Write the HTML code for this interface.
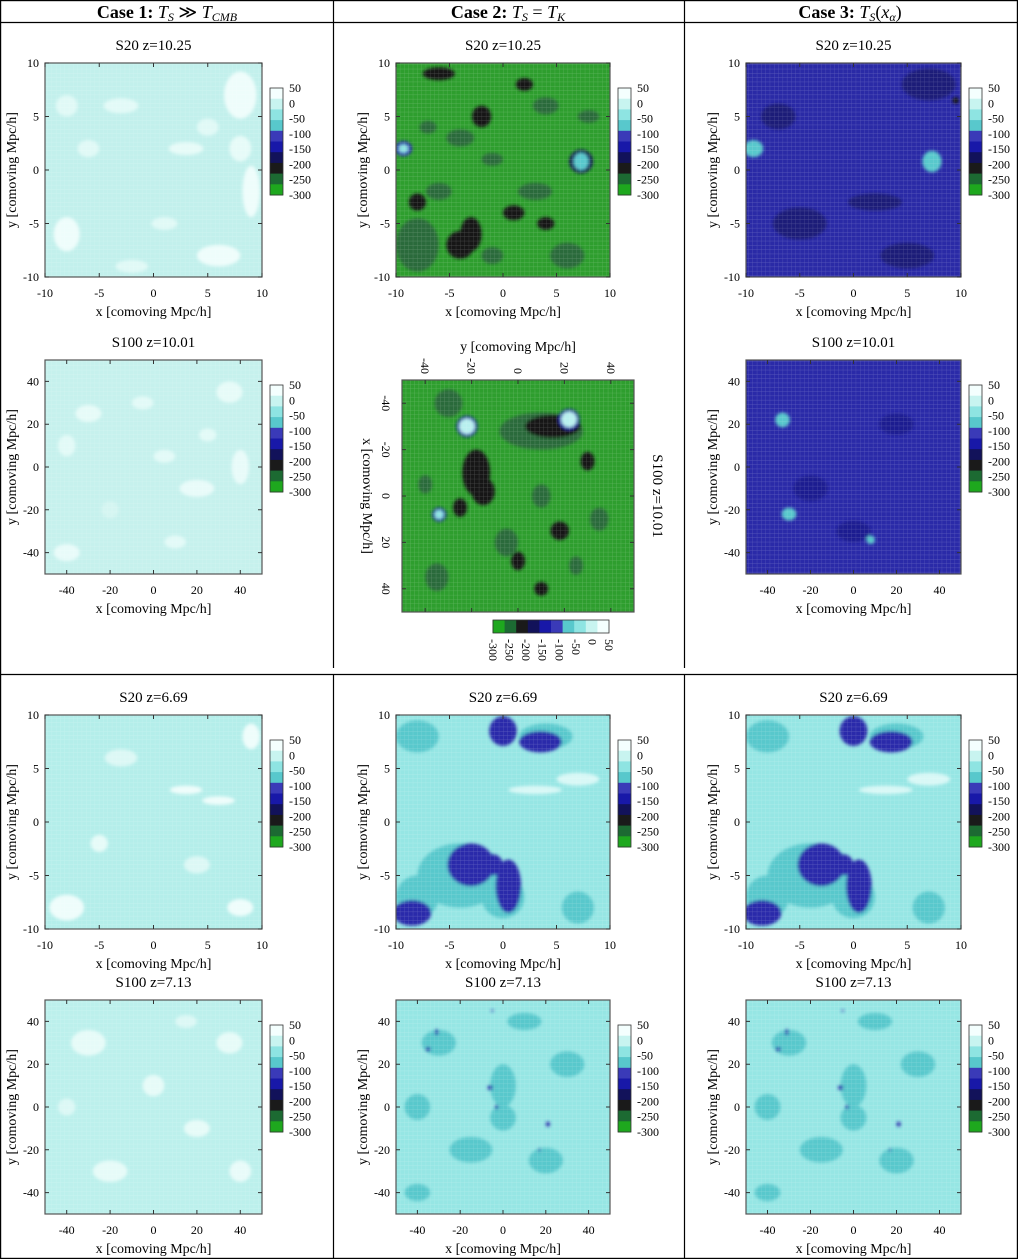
<!DOCTYPE html>
<html><head><meta charset="utf-8">
<style>
html,body{margin:0;padding:0;background:#fff;}
svg{display:block;font-family:"Liberation Serif",serif;}
</style></head>
<body>
<svg id="fig" width="1018" height="1259" viewBox="0 0 1018 1259" xmlns="http://www.w3.org/2000/svg">
<defs>
<pattern id="gridpat" width="4.3" height="4.3" patternUnits="userSpaceOnUse">
<path d="M0 0H4.3M0 0V4.3" stroke="#ffffff" stroke-width="0.6" opacity="0.25" fill="none"/>
</pattern>
<filter id="blur1" x="-10%" y="-10%" width="120%" height="120%"><feGaussianBlur stdDeviation="1.6"/></filter>
</defs>
<g stroke="#000" stroke-width="1.2">
<rect x="0.6" y="0.6" width="1016.8" height="1257.8" fill="none"/>
<line x1="0" y1="22.5" x2="1018" y2="22.5"/>
<line x1="0" y1="674.5" x2="1018" y2="674.5"/>
<line x1="333.5" y1="0" x2="333.5" y2="668"/>
<line x1="684.5" y1="0" x2="684.5" y2="668"/>
<line x1="333.5" y1="674" x2="333.5" y2="1259"/>
<line x1="684.5" y1="674" x2="684.5" y2="1259"/>
</g>
<g font-size="18" text-anchor="middle">
<text x="167" y="18"><tspan font-weight="bold">Case 1: </tspan><tspan font-style="italic">T</tspan><tspan font-style="italic" font-size="12" dy="3">S</tspan><tspan dy="-3"> ≫ </tspan><tspan font-style="italic">T</tspan><tspan font-style="italic" font-size="12" dy="3">CMB</tspan></text>
<text x="508" y="18"><tspan font-weight="bold">Case 2: </tspan><tspan font-style="italic">T</tspan><tspan font-style="italic" font-size="12" dy="3">S</tspan><tspan dy="-3"> = </tspan><tspan font-style="italic">T</tspan><tspan font-style="italic" font-size="12" dy="3">K</tspan></text>
<text x="850" y="18"><tspan font-weight="bold">Case 3: </tspan><tspan font-style="italic">T</tspan><tspan font-style="italic" font-size="12" dy="3">S</tspan><tspan dy="-3">(</tspan><tspan font-style="italic">x</tspan><tspan font-style="italic" font-size="12" dy="3">α</tspan><tspan dy="-3">)</tspan></text>
</g>
<g id="panels"></g>
</svg>
<script>
// colorbar data
const cbTicks = [50, 0, -50, -100, -150, -200, -250, -300];
const cbColors = ["#f4fffe","#c8f4f0","#8ee4e2","#58c8cc","#3a3ab8","#1818a8","#12125a","#1a1a1a","#1c6a32","#1ea81e"];
const s20Ticks = [-10, -5, 0, 5, 10];
const s100Ticks = [-40, -20, 0, 20, 40];
// blob data per map: [x, y, rx, ry, colour]
const blobsC1a = [[-8,-6,1.2,1.6,"#eefdfb"],[8,7,1.5,2.2,"#eefdfb"],[6,-8,2,1,"#eefdfb"],[-3,6,1.6,0.7,"#e2faf7"],[3,2,1.6,0.6,"#e6fbf8"],[9,-2,0.8,2.4,"#eefdfb"],[-6,2,1,0.8,"#e0f9f6"],[-8,6,1,1,"#e0f9f6"],[1,-5,1.2,0.6,"#e0f9f6"],[5,4,1,0.8,"#e0f9f6"],[-2,-9,1.5,0.6,"#e0f9f6"],[8,2,1,1.2,"#e6fbf8"]];
const blobsC1b = [[-30,25,6,4,"#e6fbf8"],[20,-10,8,4,"#e8fbf9"],[35,35,6,5,"#e6fbf8"],[-40,-40,6,4,"#e8fbf9"],[5,5,5,3,"#e2faf7"],[40,0,4,8,"#e8fbf9"],[-20,-20,4,4,"#d4f5f1"],[-5,30,5,3,"#e2faf7"],[25,15,4,3,"#e2faf7"],[-40,10,4,5,"#e2faf7"],[10,-35,5,3,"#e2faf7"]];
const blobsC2a = [[-8,-7,2,2.5,"#2a6a3a"],[-4,-7,1.3,1.3,"#141414"],[-3,-6,1,1.6,"#141414"],[-6,9,1.5,0.6,"#141414"],[-4,3,1.3,0.8,"#2a6a3a"],[-2,5,0.9,1,"#141414"],[3,-2,1.6,0.8,"#2a6a3a"],[6,-8,1.6,1.2,"#2a6a3a"],[2,8,0.8,0.6,"#141414"],[-6,-2,1.2,0.8,"#2a6a3a"],[4,6,1.2,0.8,"#2a6a3a"],[-1,1,1,0.6,"#2a6a3a"],[1,-4,1,0.7,"#141414"],[-7,4,0.8,0.6,"#2a6a3a"],[4,-5,0.8,0.6,"#141414"],[8,5,1,0.6,"#2a6a3a"],[-8,-3,0.8,0.8,"#141414"],[-1,-8,1,0.8,"#2a6a3a"],
 [-9.3,2,0.8,0.7,"#2a2ab0"],[-9.3,2,0.45,0.4,"#8ee4e2"],[7.3,0.8,1.1,1.1,"#12125a"],[7.3,0.8,0.7,0.8,"#58c8cc"]];
const blobsC2b = [[-28,10,8,18,"#2a6a3a"],[-30,15,5,12,"#141414"],[-10,-18,10,6,"#141414"],[-2,-15,6,5,"#141414"],[0,10,5,4,"#2a6a3a"],[20,-5,6,5,"#2a6a3a"],[15,18,4,4,"#141414"],[28,0,4,3,"#141414"],[-40,-30,6,6,"#2a6a3a"],[35,-35,6,5,"#2a6a3a"],[10,35,5,4,"#2a6a3a"],[5,-25,4,3,"#141414"],[-15,30,4,3,"#141414"],[30,25,4,3,"#2a6a3a"],[-5,-40,4,3,"#2a6a3a"],[40,10,3,3,"#141414"],
 [-33,22,4.5,4.5,"#1818a8"],[-33,22,3.4,3.4,"#b8f0ee"],[-30,-22,4.5,4.5,"#1818a8"],[-30,-22,3.4,3.4,"#b8f0ee"],[8,-34,3,3,"#1818a8"],[8,-34,2,2,"#8ee4e2"]];
const blobsC3a = [[7,8,2.5,1.5,"#1c1c78"],[-5,-5,2.5,1.5,"#1c1c78"],[2,-3,2.5,0.8,"#1c1c78"],[-7,5,1.6,1.2,"#1c1c78"],[5,-8,2.5,1.2,"#1c1c78"],[-9.3,2,0.9,0.8,"#58c8cc"],[7.3,0.8,0.9,1,"#58c8cc"],[9.5,6.5,0.3,0.3,"#141414"]];
const blobsC3b = [[-20,-10,8,6,"#1f1f90"],[20,20,8,5,"#1f1f90"],[0,-30,8,5,"#1f1f90"],[-33,22,3.4,3.4,"#58c8cc"],[-30,-22,3.4,3,"#58c8cc"],[8,-34,2,2,"#58c8cc"]];
const blobsLowA = [[-8,8,2,1.5,"#58c8cc"],[4,8,2.5,1.2,"#58c8cc"],[3.5,7.5,2,1,"#2a2aaa"],[0,8.5,1.3,1.4,"#2a2aaa"],[-4,-5,4,3,"#58c8cc"],[-3,-4,2.2,2,"#2a2aaa"],[-8,-7,2,2,"#58c8cc"],[-8.5,-8.5,1.8,1.2,"#2a2aaa"],[0,-7,2,2,"#58c8cc"],[0.5,-6,1.2,2.5,"#2a2aaa"],[-1,-4,1,1,"#2a2aaa"],[7,-8,1.5,1.5,"#58c8cc"],[3,3,2.5,0.4,"#d8f8f6"],[7,4,2,0.6,"#d8f8f6"]];
const blobsLowB = [[-30,30,8,6,"#58c8cc"],[0,10,6,10,"#58c8cc"],[-15,-20,10,6,"#58c8cc"],[20,-25,8,6,"#58c8cc"],[30,20,8,6,"#58c8cc"],[-40,0,6,6,"#58c8cc"],[10,40,8,4,"#58c8cc"],[0,-5,6,6,"#58c8cc"],[-40,-40,6,4,"#58c8cc"],
 [-31,35,0.8,1.5,"#2a2aaa"],[-35,27,1.2,1,"#2a2aaa"],[-6,9,1.2,1.2,"#2a2aaa"],[-3,0,0.8,1,"#2a2aaa"],[21,-8,1,1.2,"#2a2aaa"],[17,-20,0.5,0.8,"#2a2aaa"],[-5,45,0.6,0.5,"#2a2aaa"]];
const blobsC1c = [[-8,-8,1.6,1.2,"#eefdfb"],[3,3,1.5,0.4,"#eefdfb"],[6,2,1.5,0.4,"#eefdfb"],[9,8,0.8,1.2,"#eefdfb"],[-5,-2,0.8,0.8,"#e6fbf8"],[8,-8,1.2,0.8,"#eefdfb"],[-3,6,1.5,0.8,"#dcf8f5"],[4,-4,1.2,0.8,"#dcf8f5"]];
const blobsC1d = [[-30,30,8,6,"#e6fbf8"],[20,-10,6,4,"#e6fbf8"],[35,30,6,5,"#e6fbf8"],[-20,-30,8,5,"#e6fbf8"],[0,10,5,5,"#e6fbf8"],[40,-30,5,5,"#e8fbf9"],[-40,0,4,4,"#dcf8f5"],[15,40,5,3,"#dcf8f5"]];

const panelDefs = [
 {name:"case1-s20-z10", x:45,y:63,w:217,h:214,title:"S20 z=10.25",ticks:s20Ticks,r:10,bg:"#c2f0ec",blobs:blobsC1a},
 {name:"case1-s100-z10", x:45,y:360,w:217,h:214,title:"S100 z=10.01",ticks:s100Ticks,r:50,bg:"#c6f1ed",blobs:blobsC1b},
 {name:"case2-s20-z10", x:396,y:63,w:214,h:214,title:"S20 z=10.25",ticks:s20Ticks,r:10,bg:"#2e9e2e",blobs:blobsC2a},
 {name:"case2-s100-z10", x:-116,y:-116,w:232,h:232,title:"S100 z=10.01",ticks:s100Ticks,r:50,bg:"#2e9e2e",blobs:blobsC2b,rot:true},
 {name:"case3-s20-z10", x:746,y:63,w:215,h:214,title:"S20 z=10.25",ticks:s20Ticks,r:10,bg:"#2a2aa6",blobs:blobsC3a},
 {name:"case3-s100-z10", x:746,y:360,w:215,h:214,title:"S100 z=10.01",ticks:s100Ticks,r:50,bg:"#2a2aa8",blobs:blobsC3b},
 {name:"case1-s20-z6", x:45,y:715,w:217,h:214,title:"S20 z=6.69",ticks:s20Ticks,r:10,bg:"#b4eeea",blobs:blobsC1c},
 {name:"case1-s100-z7", x:45,y:1000,w:217,h:214,title:"S100 z=7.13",ticks:s100Ticks,r:50,bg:"#bcf0ec",blobs:blobsC1d},
 {name:"case2-s20-z6", x:396,y:715,w:214,h:214,title:"S20 z=6.69",ticks:s20Ticks,r:10,bg:"#96e6e4",blobs:blobsLowA},
 {name:"case2-s100-z7", x:396,y:1000,w:214,h:214,title:"S100 z=7.13",ticks:s100Ticks,r:50,bg:"#96e6e4",blobs:blobsLowB},
 {name:"case3-s20-z6", x:746,y:715,w:215,h:214,title:"S20 z=6.69",ticks:s20Ticks,r:10,bg:"#96e6e4",blobs:blobsLowA},
 {name:"case3-s100-z7", x:746,y:1000,w:215,h:214,title:"S100 z=7.13",ticks:s100Ticks,r:50,bg:"#96e6e4",blobs:blobsLowB}
];
const NS = "http://www.w3.org/2000/svg";
function mk(tag, attrs, parent){const e=document.createElementNS(NS,tag);for(const k in attrs)e.setAttribute(k,attrs[k]);if(parent)parent.appendChild(e);return e;}
const root = document.getElementById("panels");
panelDefs.forEach(p=>{
  let g = mk("g",{},root);
  
  
  if(p.rot) g.setAttribute("transform","translate(518,496) rotate(90)");
  const sx = v => p.x + (v + p.r) / (2*p.r) * p.w;
  const sy = v => p.y + p.h - (v + p.r) / (2*p.r) * p.h;
  const clipId = "clip-" + p.name;
  const cp = mk("clipPath",{id:clipId},g); mk("rect",{x:p.x,y:p.y,width:p.w,height:p.h},cp);
  const map = mk("g",{"clip-path":"url(#"+clipId+")"},g);
  
  
  mk("rect",{x:p.x,y:p.y,width:p.w,height:p.h,fill:p.bg},map);
  const bl = mk("g",{filter:"url(#blur1)"},map);
  p.blobs.forEach(b=>{
    const e = mk("ellipse",{cx:sx(b[0]),cy:sy(b[1]),rx:b[2]/(2*p.r)*p.w,ry:b[3]/(2*p.r)*p.h,fill:b[4]},bl);
    
    
  });
  mk("rect",{x:p.x,y:p.y,width:p.w,height:p.h,fill:"url(#gridpat)"},map);
  mk("rect",{x:p.x,y:p.y,width:p.w,height:p.h,fill:"none",stroke:"#555",'stroke-width':1.2},g);
  p.ticks.forEach(t=>{
    const X=sx(t), Y=sy(t);
    mk("path",{d:`M${X} ${p.y+p.h}v-4M${X} ${p.y}v4M${p.x} ${Y}h4M${p.x+p.w} ${Y}h-4`,stroke:"#333","stroke-width":1},g);
    const tx = mk("text",{x:X,y:p.y+p.h+20,"font-size":12,"text-anchor":"middle"},g); tx.textContent=t;
    
    
    const ty = mk("text",{x:p.x-6,y:Y+4,"font-size":12,"text-anchor":"end"},g); ty.textContent=t;
    
    
  });
  const xt = mk("text",{x:p.x+p.w/2,y:p.y+p.h+39,"font-size":14,"text-anchor":"middle"},g); xt.textContent="x [comoving Mpc/h]";
  
  
  const yt = mk("text",{x:0,y:0,"font-size":14,"text-anchor":"middle",transform:`translate(${p.x-29},${p.y+p.h/2}) rotate(-90)`},g); yt.textContent="y [comoving Mpc/h]";
  
  
  const tt = mk("text",{x:p.x+p.w/2,y:p.y-13,"font-size":15,"text-anchor":"middle"},g); tt.textContent=p.title;
  if(p.rot){tt.setAttribute("y", p.y-19);}
  
  
  const cbx = p.x+p.w+8, cby = p.y+25, cbh = p.rot?116:107, cbw = 13;
  const cb = mk("g",{},g);
  
  
  const seg = cbh/cbColors.length;
  cbColors.forEach((c,i)=>{ mk("rect",{x:cbx,y:cby+i*seg,width:cbw,height:seg+0.5,fill:c},cb); });
  mk("rect",{x:cbx,y:cby,width:cbw,height:cbh,fill:"none",stroke:"#333","stroke-width":0.8},cb);
  cbTicks.forEach((t,i)=>{
    const Y = cby + i*cbh/(cbTicks.length-1);
    const l = mk("text",{x:cbx+cbw+6,y:Y+4,"font-size":12},cb); l.textContent=t;
    
    
  });
});
</script>
</body></html>
